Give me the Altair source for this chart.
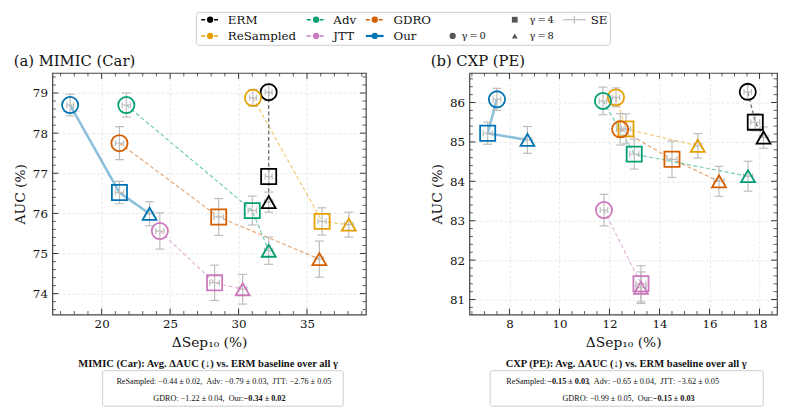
import altair as alt
import numpy as np
import pandas as pd

# ---------------- data ----------------
METHODS = ["ERM", "ReSampled", "Adv", "JTT", "GDRO", "Our"]
COLORS = ["#000000", "#E69F00", "#029E73", "#CC78BC", "#D55E00", "#0173B2"]
GAMMAS = [0, 4, 8]
SHAPES = ["circle", "square", "triangle-up"]

# MIMIC (Car): values at gamma = 0, 4, 8
mimic_sep = {
    "ERM": [32.2, 32.2, 32.2],
    "ReSampled": [31.05, 36.1, 38.05],
    "Adv": [21.8, 31.0, 32.2],
    "JTT": [24.25, 28.25, 30.3],
    "GDRO": [21.3, 28.55, 35.9],
    "Our": [17.7, 21.3, 23.5],
}
mimic_auc = {
    "ERM": [79.02, 76.92, 76.28],
    "ReSampled": [78.88, 75.80, 75.72],
    "Adv": [78.70, 76.07, 75.07],
    "JTT": [75.56, 74.27, 74.11],
    "GDRO": [77.75, 75.91, 74.86],
    "Our": [78.70, 76.52, 75.99],
}
mimic_auc_se = {
    "ERM": [0.21, 0.20, 0.25],
    "ReSampled": [0.21, 0.34, 0.31],
    "Adv": [0.30, 0.36, 0.34],
    "JTT": [0.45, 0.44, 0.37],
    "GDRO": [0.41, 0.46, 0.45],
    "Our": [0.27, 0.28, 0.30],
}
mimic_sep_se = {
    "ERM": [0.25, 0.25, 0.3],
    "ReSampled": [0.25, 0.3, 0.3],
    "Adv": [0.3, 0.3, 0.3],
    "JTT": [0.3, 0.35, 0.3],
    "GDRO": [0.3, 0.35, 0.3],
    "Our": [0.25, 0.3, 0.3],
}

# CXP (PE)
cxp_sep = {
    "ERM": [17.53, 17.83, 18.16],
    "ReSampled": [12.26, 12.66, 15.53],
    "Adv": [11.74, 12.99, 17.54],
    "JTT": [11.78, 13.26, 13.26],
    "GDRO": [12.43, 14.50, 16.38],
    "Our": [7.50, 7.13, 8.72],
}
cxp_auc = {
    "ERM": [86.27, 85.50, 85.11],
    "ReSampled": [86.13, 85.33, 84.90],
    "Adv": [86.04, 84.69, 84.13],
    "JTT": [83.27, 81.40, 81.30],
    "GDRO": [85.32, 84.56, 84.00],
    "Our": [86.08, 85.22, 85.05],
}
cxp_auc_se = {
    "ERM": [0.18, 0.22, 0.27],
    "ReSampled": [0.24, 0.38, 0.31],
    "Adv": [0.35, 0.38, 0.38],
    "JTT": [0.40, 0.46, 0.40],
    "GDRO": [0.40, 0.46, 0.38],
    "Our": [0.28, 0.28, 0.34],
}
cxp_sep_se = {
    "ERM": [0.15, 0.18, 0.18],
    "ReSampled": [0.15, 0.18, 0.15],
    "Adv": [0.15, 0.18, 0.18],
    "JTT": [0.15, 0.2, 0.2],
    "GDRO": [0.15, 0.2, 0.2],
    "Our": [0.15, 0.18, 0.18],
}

X_TITLE = "ΔSep₁₀ (%)"
Y_TITLE = "AUC (%)"
TITLES = ["(a) MIMIC (Car)", "(b) CXP (PE)"]

NB = "\u00a0"
L_SUM_TITLE = "MIMIC (Car): Avg. ΔAUC (↓) vs. ERM baseline over all γ"
L_LINE1 = ["ReSampled: −0.44 ± 0.02, " + NB + "Adv: −0.79 ± 0.03, " + NB + "JTT: −2.76 ± 0.05"]
L_LINE2 = ["GDRO: −1.22 ± 0.04, " + NB + "Our:" + NB, "−0.34 ± 0.02"]
R_SUM_TITLE = "CXP (PE): Avg. ΔAUC (↓) vs. ERM baseline over all γ"
R_LINE1 = ["ReSampled:" + NB, "−0.15 ± 0.03", "," + NB + NB + "Adv: −0.65 ± 0.04, " + NB + "JTT: −3.62 ± 0.05"]
R_LINE2 = ["GDRO: −0.99 ± 0.05, " + NB + "Our:" + NB, "−0.15 ± 0.03"]

SERIF = "DejaVu Serif"
ANNOT = "Liberation Serif"
SE_COLOR = "#bdbdbd"
H = 245
ANN_T, ANN_L = 10.7, 8.3
Y_T, Y_BOX, Y_L1, Y_L2, Y_BOX2 = 295, 302, 313, 331, 338


def build_df(sep, auc, sep_se, auc_se):
    rows = []
    for m in METHODS:
        for i, g in enumerate(GAMMAS):
            rows.append(dict(method=m, gamma=g, sep=sep[m][i], auc=auc[m][i],
                             sx=sep_se[m][i], sy=auc_se[m][i]))
    df = pd.DataFrame(rows)
    df["xlo"] = df.sep - df.sx
    df["xhi"] = df.sep + df.sx
    df["ylo"] = df.auc - df.sy
    df["yhi"] = df.auc + df.sy
    return df


def minor(lo, hi, step, major):
    vals = np.round(np.arange(lo, hi + 1e-9, step), 3)
    return [float(v) for v in vals if not any(abs(v - M) < 1e-6 for M in major)]


def one():
    return pd.DataFrame({"k": [0]})


def text_layer(txt, x, y, size, bold=False, align="center"):
    return alt.Chart(pd.DataFrame({"t": [txt]})).mark_text(
        font=ANNOT, fontSize=size, fontWeight="bold" if bold else "normal",
        align=align, baseline="middle", color="#111"
    ).encode(text="t:N", x=alt.value(x), y=alt.value(y))


def panel(df, W, xdom, ydom, xmajor, xminor, ymajor, yminor, title, annots):
    xs = alt.Scale(domain=xdom, nice=False, zero=False)
    ys = alt.Scale(domain=ydom, nice=False, zero=False)
    xax = alt.Axis(values=xmajor, title=X_TITLE, ticks=False, domain=False, grid=True,
                   labelPadding=4, titlePadding=6, format="d", labelFlush=False)
    yax = alt.Axis(values=ymajor, title=Y_TITLE, ticks=False, domain=False, grid=True,
                   labelPadding=5, titlePadding=5, format="d", labelFlush=False)

    def X(f):
        return alt.X(f"{f}:Q", scale=xs, axis=xax)

    def Y(f):
        return alt.Y(f"{f}:Q", scale=ys, axis=yax)

    col = alt.Color("method:N", scale=alt.Scale(domain=METHODS, range=COLORS), legend=None)
    layers = []
    d_oth = df[~df.method.isin(["ERM", "Our"])]
    layers.append(alt.Chart(d_oth).mark_line(strokeDash=[4, 2.5], strokeWidth=1.2, opacity=0.55)
                  .encode(x=X("sep"), y=Y("auc"), color=col, order="gamma:Q"))
    layers.append(alt.Chart(df[df.method == "ERM"]).mark_line(strokeDash=[4, 2.5], strokeWidth=1.4, color="#777")
                  .encode(x=X("sep"), y=Y("auc"), order="gamma:Q"))
    layers.append(alt.Chart(df[df.method == "Our"]).mark_line(strokeWidth=2.6, opacity=0.45, color=COLORS[-1])
                  .encode(x=X("sep"), y=Y("auc"), order="gamma:Q"))
    # error bars
    b = alt.Chart(df)
    layers.append(b.mark_rule(color=SE_COLOR, strokeWidth=1.2).encode(x=X("sep"), y=Y("ylo"), y2="yhi:Q"))
    layers.append(b.mark_rule(color=SE_COLOR, strokeWidth=1.2).encode(x=X("xlo"), x2="xhi:Q", y=Y("auc")))
    for f in ["ylo", "yhi"]:
        layers.append(b.mark_tick(orient="horizontal", size=9, thickness=1.2, color=SE_COLOR, opacity=1)
                      .encode(x=X("sep"), y=Y(f)))
    for f in ["xlo", "xhi"]:
        layers.append(b.mark_tick(orient="vertical", size=6, thickness=1.2, color=SE_COLOR, opacity=1)
                      .encode(x=X(f), y=Y("auc")))
    # markers
    layers.append(b.mark_point(filled=False, opacity=1).encode(
        x=X("sep"), y=Y("auc"), color=col,
        shape=alt.Shape("gamma:N", scale=alt.Scale(domain=GAMMAS, range=SHAPES), legend=None),
        size=alt.Size("gamma:N", scale=alt.Scale(domain=GAMMAS, range=[270, 200, 230]), legend=None),
        strokeWidth=alt.StrokeWidth("method:N", scale=alt.Scale(domain=METHODS, range=[1.8] * 5 + [2.5]),
                                    legend=None),
    ))
    # inward ticks on all sides
    tick_c = "#333"
    for vals, ln, sw in [(xmajor, 6, 1.0), (xminor, 3.5, 0.8)]:
        t = alt.Chart(pd.DataFrame({"sep": vals}))
        layers.append(t.mark_rule(color=tick_c, strokeWidth=sw).encode(x=X("sep"), y=alt.value(H), y2=alt.value(H - ln)))
        layers.append(t.mark_rule(color=tick_c, strokeWidth=sw).encode(x=X("sep"), y=alt.value(0), y2=alt.value(ln)))
    for vals, ln, sw in [(ymajor, 6, 1.0), (yminor, 3.5, 0.8)]:
        t = alt.Chart(pd.DataFrame({"auc": vals}))
        layers.append(t.mark_rule(color=tick_c, strokeWidth=sw).encode(y=Y("auc"), x=alt.value(0), x2=alt.value(ln)))
        layers.append(t.mark_rule(color=tick_c, strokeWidth=sw).encode(y=Y("auc"), x=alt.value(W), x2=alt.value(W - ln)))
    layers.extend(annots)
    return alt.layer(*layers).properties(width=W, height=H, title=alt.TitleParams(title, anchor="start"))


def box(x1, x2):
    return alt.Chart(one()).mark_rect(fill="white", stroke="#cccccc", strokeWidth=1, cornerRadius=2).encode(
        x=alt.value(x1), x2=alt.value(x2), y=alt.value(Y_BOX), y2=alt.value(Y_BOX2))


# ---------------- left panel ----------------
dfL = build_df(mimic_sep, mimic_auc, mimic_sep_se, mimic_auc_se)
annL = [
    text_layer(L_SUM_TITLE, 158, Y_T, ANN_T, bold=True),
    box(51, 295),
    text_layer(L_LINE1[0], 174, Y_L1, ANN_L),
    text_layer(L_LINE2[0], 194, Y_L2, ANN_L, align="right"),
    text_layer(L_LINE2[1], 194, Y_L2, ANN_L, bold=True, align="left"),
]
xmajL = [20, 25, 30, 35]
ymajL = [74, 75, 76, 77, 78, 79]
left = panel(dfL, 318, [16.4, 39.3], [73.48, 79.5], xmajL, minor(17, 39, 1, xmajL),
             ymajL, minor(73.6, 79.4, 0.2, ymajL), TITLES[0], annL)

# ---------------- right panel ----------------
dfR = build_df(cxp_sep, cxp_auc, cxp_sep_se, cxp_auc_se)
annR = [
    text_layer(R_SUM_TITLE, 159, Y_T, ANN_T, bold=True),
    box(21, 298),
    text_layer(R_LINE1[0], 78, Y_L1, ANN_L, align="right"),
    text_layer(R_LINE1[1], 79, Y_L1, ANN_L, bold=True, align="left"),
    text_layer(R_LINE1[2], 120, Y_L1, ANN_L, align="left"),
    text_layer(R_LINE2[0], 186, Y_L2, ANN_L, align="right"),
    text_layer(R_LINE2[1], 186, Y_L2, ANN_L, bold=True, align="left"),
]
xmajR = [8, 10, 12, 14, 16, 18]
ymajR = [81, 82, 83, 84, 85, 86]
right = panel(dfR, 312, [6.4, 18.7], [80.62, 86.75], xmajR, minor(6.5, 18.5, 0.5, xmajR),
              ymajR, minor(80.8, 86.6, 0.2, ymajR), TITLES[1], annR)

# ---------------- legend ----------------
LEG_W, LEG_H = 570, 34
R1, R2 = 8, 24.5
LEG_METHOD_ORDER = ["ERM", "ReSampled", "Adv", "JTT", "GDRO", "Our"]
LEG_SYM_X = [(151, 169), (151, 169), (258, 277), (258, 277), (318, 336), (318, 336)]
LEG_TXT_X = [178, 178, 285, 285, 346, 346]
LEG_ROW = [R1, R2, R1, R2, R1, R2]
GAM_LABELS = ["γ\u2009=\u20090", "γ\u2009=\u20094", "γ\u2009=\u20098"]
GAM_SYM_X = [406, 469, 469]
GAM_TXT_X = [415, 484, 484]
GAM_ROW = [R2, R1, R2]

leg = [alt.Chart(one()).mark_rect(fill="white", stroke="#cccccc", strokeWidth=1, cornerRadius=3).encode(
    x=alt.value(146), x2=alt.value(566), y=alt.value(0.5), y2=alt.value(34))]
for i, m in enumerate(LEG_METHOD_ORDER):
    c = COLORS[METHODS.index(m)]
    a, bx = LEG_SYM_X[i]
    yy = LEG_ROW[i]
    if m == "Our":
        leg.append(alt.Chart(one()).mark_rule(color=c, strokeWidth=2.2).encode(
            x=alt.value(a), x2=alt.value(bx), y=alt.value(yy)))
    else:
        leg.append(alt.Chart(one()).mark_rule(color=c, strokeWidth=1.5, strokeDash=[4, 2.5]).encode(
            x=alt.value(a), x2=alt.value(bx), y=alt.value(yy)))
    leg.append(alt.Chart(one()).mark_point(filled=True, shape="circle", size=40, color=c, opacity=1).encode(
        x=alt.value((a + bx) / 2), y=alt.value(yy)))
    leg.append(alt.Chart(pd.DataFrame({"t": [m]})).mark_text(
        font=SERIF, fontSize=12, align="left", baseline="middle", color="#111").encode(
        text="t:N", x=alt.value(LEG_TXT_X[i]), y=alt.value(yy)))
for i, g in enumerate(GAMMAS):
    leg.append(alt.Chart(one()).mark_point(filled=True, shape=SHAPES[i], size=[40, 34, 34][i],
                                           color="#555", opacity=1).encode(
        x=alt.value(GAM_SYM_X[i]), y=alt.value(GAM_ROW[i])))
    leg.append(alt.Chart(pd.DataFrame({"t": [GAM_LABELS[i]]})).mark_text(
        font=SERIF, fontSize=10, align="left", baseline="middle", color="#111").encode(
        text="t:N", x=alt.value(GAM_TXT_X[i]), y=alt.value(GAM_ROW[i])))
leg.append(alt.Chart(one()).mark_rule(color=SE_COLOR, strokeWidth=1.2).encode(
    x=alt.value(518), x2=alt.value(541), y=alt.value(R1)))
leg.append(alt.Chart(one()).mark_rule(color=SE_COLOR, strokeWidth=1.2).encode(
    x=alt.value(529.5), y=alt.value(R1 - 4), y2=alt.value(R1 + 4)))
leg.append(alt.Chart(pd.DataFrame({"t": ["SE"]})).mark_text(
    font=SERIF, fontSize=12, align="left", baseline="middle", color="#111").encode(
    text="t:N", x=alt.value(546), y=alt.value(R1)))

legend = alt.layer(*leg).properties(width=LEG_W, height=LEG_H,
                                    view=alt.ViewBackground(stroke="transparent"))

chart = alt.vconcat(
    legend,
    alt.hconcat(left, right, spacing=63),
    spacing=5,
).properties(
    padding={"left": 5, "top": 0, "right": 0, "bottom": 0}
).configure_view(
    stroke="#444", strokeWidth=1.2
).configure_axis(
    labelFont=SERIF, titleFont=SERIF, labelFontSize=12, titleFontSize=14,
    labelColor="#111", titleColor="#111", titleFontWeight="normal",
    gridColor="#e2e2e2", gridDash=[3, 2], gridWidth=0.8
).configure_title(
    font=SERIF, fontSize=15, fontWeight="normal", anchor="start", offset=4, color="#111"
)

chart.save("out.html", embed_options={"renderer": "svg", "actions": False})
